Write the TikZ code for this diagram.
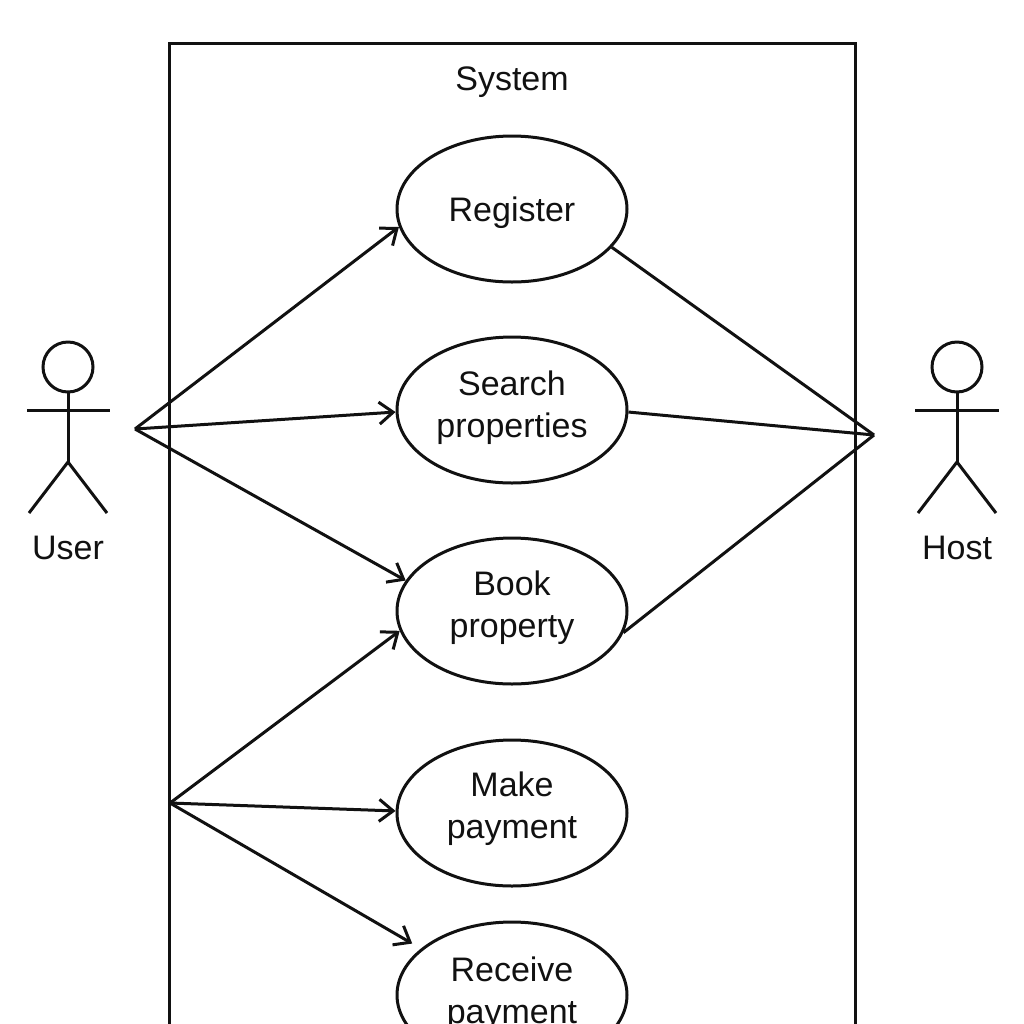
\documentclass[tikz,border=0pt]{standalone}
\usepackage{fontspec}
\setmainfont{Liberation Sans}
\usetikzlibrary{shapes.geometric,arrows.meta}
\definecolor{ink}{HTML}{111111}
\newcommand{\fsz}{\fontsize{17pt}{21pt}\selectfont}
\newcommand{\casetext}[2]{\raisebox{#1}[0pt][0pt]{\parbox[c]{80pt}{\centering\fsz #2}}}
\tikzset{
  ucase/.style={draw=ink,line width=1.5pt,ellipse,minimum width=115pt,minimum height=73pt,inner sep=0pt,text=ink},
  lab/.style={inner sep=0pt,anchor=base,font=\fsz,text=ink},
  conn/.style={draw=ink,line width=1.5pt},
  arr/.style={conn,-{Straight Barb[length=7pt,width=11pt,line width=1.5pt]}},
}
\begin{document}
\begin{tikzpicture}[x=0.5pt,y=-0.5pt]
\useasboundingbox (0,0) rectangle (1024,1024);
\clip (0,0) rectangle (1024,1024);
\draw[conn] (169.5,43) rectangle (855,1100);
\node[lab] (sys) at (512,90) {System};
\node[ucase] (reg) at (512,209) {\casetext{-4.5pt}{Register}};
\node[ucase] (search) at (512,410) {\casetext{-1.5pt}{Search\\properties}};
\node[ucase] (book) at (512,611) {\casetext{-1pt}{Book\\property}};
\node[ucase] (pay) at (512,813) {\casetext{-0.5pt}{Make\\payment}};
\node[ucase] (rec) at (512,995) {\casetext{-2pt}{Receive\\payment}};
% user
\draw[conn] (68,367) circle (12.5pt);
\coordinate (uneck) at (68,392);
\coordinate (uhip) at (68,462);
\coordinate (ual) at (27,410);
\coordinate (uar) at (110,410);
\coordinate (ull) at (29,513);
\coordinate (ulr) at (107,513);
\draw[conn] (uneck)--(uhip);
\draw[conn] (ual)--(uar);
\draw[conn] (ull)--(uhip)--(ulr);
\node[lab] (user) at (68,559) {User};
% host
\draw[conn] (957,367) circle (12.5pt);
\coordinate (hneck) at (957,392);
\coordinate (hhip) at (957,462);
\coordinate (hal) at (915,410);
\coordinate (har) at (999,410);
\coordinate (hll) at (918,513);
\coordinate (hlr) at (996,513);
\draw[conn] (hneck)--(hhip);
\draw[conn] (hal)--(har);
\draw[conn] (hll)--(hhip)--(hlr);
\node[lab] (host) at (957,559) {Host};
% hubs
\coordinate (uhub) at (135,429);
\coordinate (hhub) at (874,435);
\coordinate (lhub) at (170,803);
\draw[arr] (uhub)--(reg.189.8);
\draw[arr] (uhub)--(search.181);
\draw[arr] (uhub)--(book.164.5);
\draw[arr] (lhub)--(book.190.3);
\draw[arr] (lhub)--(pay.179);
\draw[arr,shorten >=5pt] (lhub)--(rec.153.2);
\draw[conn] (reg.-21.3)--(hhub);
\draw[conn] (search.-1)--(hhub);
\draw[conn] (book.-11.8)--(hhub);
\end{tikzpicture}
\end{document}
